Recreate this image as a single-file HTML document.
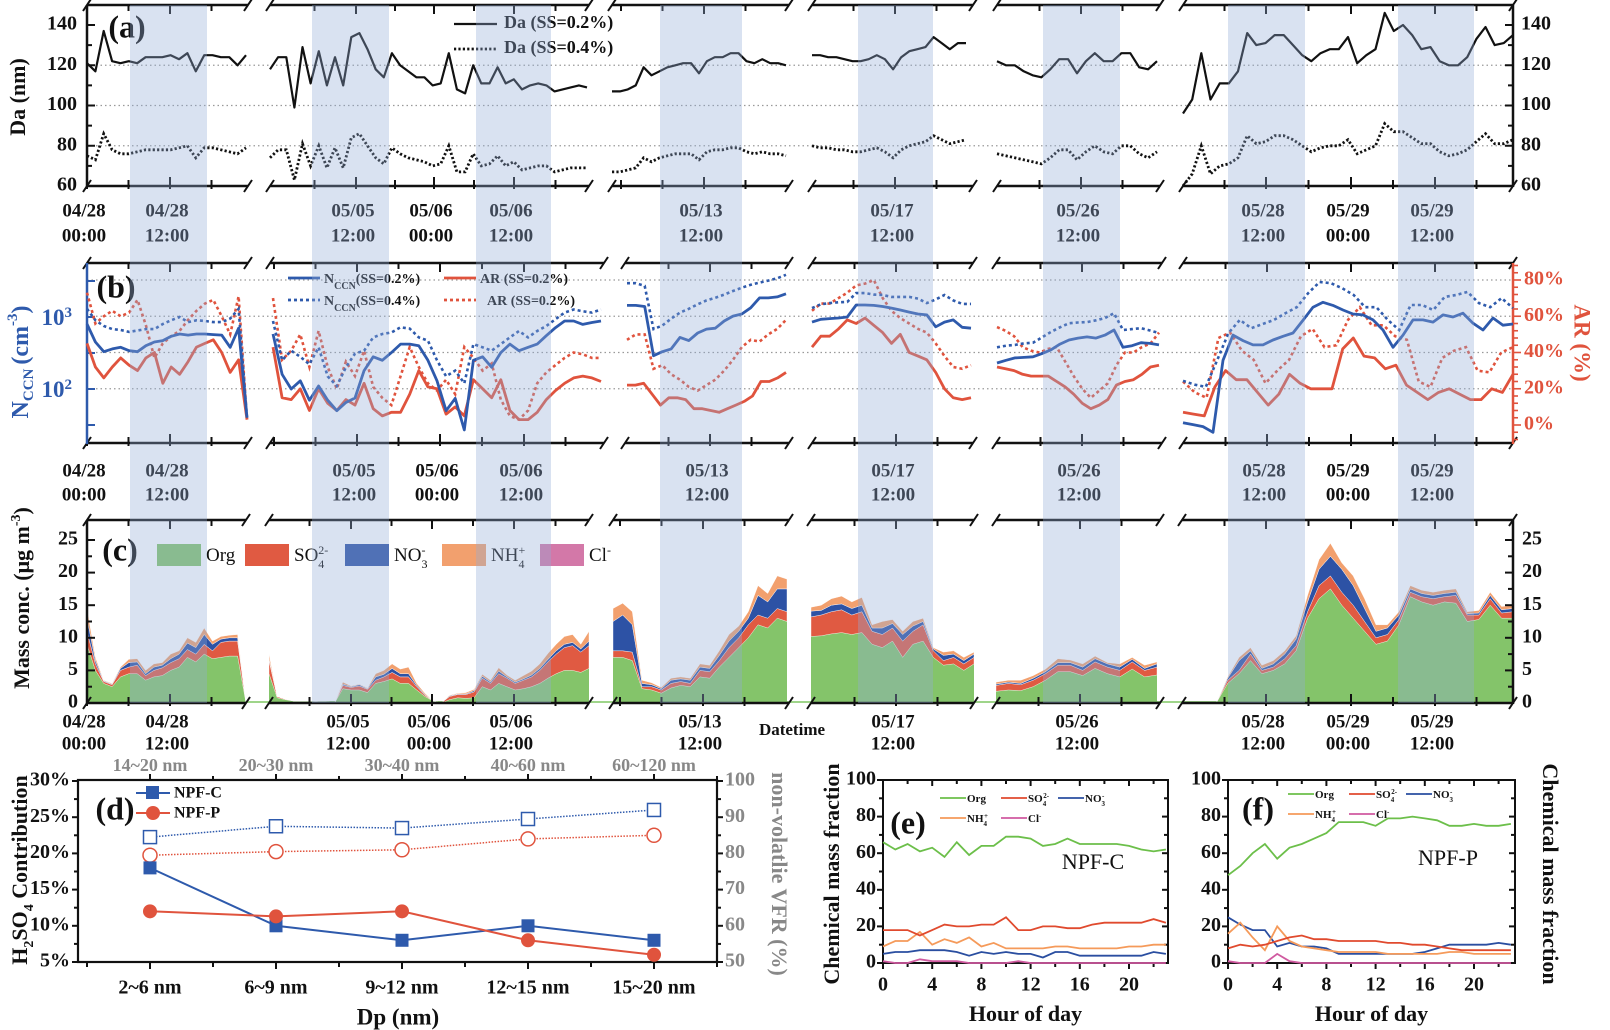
<!DOCTYPE html>
<html><head><meta charset="utf-8"><title>CCN and aerosol composition figure</title>
<style>
html,body{margin:0;padding:0;background:#fff;}
svg{display:block;font-family:"Liberation Serif",serif;font-weight:bold;}
</style></head>
<body>
<svg id="fig" width="1610" height="1030" viewBox="0 0 1610 1030"></svg>
<script>
// ===== Panel (a) data: Da (nm) per segment =====
const A_DA02_S1=[121,117,137,122,121,122,121,124,124,124,125,123,126,117,125,125,124,124,120,125];
const A_DA04_S1=[75,73,86,78,76,76,77,78,78,78,78,79,80,74,79,79,78,77,76,79];
const A_DA02_S2=[118,124,124,99,129,111,127,110,124,110,134,136,128,118,114,126,120,117,114,114,110,111,126,108,106,120,111,111,119,111,113,108,110,111,110,107,108,109,110,109];
const A_DA04_S2=[74,78,78,63,81,70,80,69,79,69,84,86,80,74,71,79,76,74,73,72,70,71,80,67,67,76,70,71,75,70,72,68,69,70,70,67,68,69,69,69];
const A_DA02_S3=[107,107,108,110,119,115,117,119,120,121,121,116,122,124,124,126,126,122,121,123,121,121,120];
const A_DA04_S3=[67,67,68,69,74,72,74,75,76,76,76,73,77,78,78,79,79,77,76,77,76,76,75];
const A_DA02_S4=[125,125,124,124,123,122,122,123,125,123,118,124,127,128,129,134,131,128,131,131];
const A_DA04_S4=[80,79,79,78,78,77,77,78,79,77,74,78,80,81,82,85,83,81,82,83];
const A_DA02_S5=[122,120,120,117,115,114,118,123,123,116,122,126,122,122,126,126,119,118,122];
const A_DA04_S5=[76,75,74,73,72,71,74,78,78,73,77,80,77,76,80,80,76,74,77];
const A_DA02_S6=[96,103,126,103,111,111,117,136,130,131,135,135,130,125,122,126,128,128,134,121,125,128,146,137,140,135,128,129,122,120,120,124,133,139,130,131,135];
const A_DA04_S6=[60,66,80,66,70,71,74,85,81,82,85,85,83,80,77,79,80,80,83,76,78,80,91,87,87,84,81,81,77,75,76,78,82,86,81,81,83];
const A_YTICKS=[60,80,100,120,140];

// ===== Panel (b) data: NCCN (cm-3) and AR (%) =====
const B_N02_S1=[800,450,330,360,380,340,330,400,450,470,540,580,560,580,580,570,560,380,700,40];
const B_N04_S1=[1300,900,750,680,660,620,650,680,680,800,900,1000,850,900,880,850,850,950,1300,40];
const B_AR_S1=[45,32,26,32,37,33,30,37,40,23,32,28,35,43,45,47,40,29,36,3];
const B_ARD_S1=[73,56,60,63,60,62,69,55,37,45,49,52,58,63,67,69,60,50,71,3];
const B_N02_S2=[580,160,100,130,70,110,70,50,65,75,180,280,250,320,420,420,400,250,130,50,74,27,250,280,200,320,420,340,380,420,550,710,880,880,790,840,880];
const B_N04_S2=[880,250,340,280,220,380,150,110,200,310,340,520,580,610,720,690,520,470,250,150,180,120,420,380,340,420,520,640,520,640,750,930,1150,1270,1200,1150,1270];
const B_AR_S2=[43,15,14,20,8,20,12,8,14,11,23,9,5,7,7,17,30,21,20,6,10,5,25,20,15,25,8,3,3,7,14,19,23,26,27,26,24];
const B_ARD_S2=[70,36,41,50,32,52,32,20,35,27,41,21,15,11,27,43,32,23,19,25,17,43,37,30,34,14,5,3,8,23,29,33,37,40,39,37,37];
const B_N02_S3=[1450,1450,1400,290,330,360,520,470,600,680,700,880,1030,1100,1340,1840,1840,1900,2100];
const B_N04_S3=[2950,2950,2700,680,760,950,1150,1300,1500,1700,1850,2050,2300,2550,2800,3000,3200,3450,3850];
const B_AR_S3=[22,22,23,17,11,15,15,14,9,9,8,7,9,11,13,16,24,24,26,29];
const B_ARD_S3=[47,50,50,31,33,28,25,21,19,22,25,30,36,43,47,46,50,53,58];
const B_N02_S4=[850,930,950,970,1000,1470,1470,1450,1400,1330,1250,1170,1100,1070,730,850,910,720,700];
const B_N04_S4=[1330,1500,1560,1600,1620,2150,2150,2050,2020,1900,1900,1900,1800,1560,1750,2020,1700,1520,1520];
const B_AR_S4=[43,49,49,53,58,56,59,55,51,45,50,40,38,36,29,20,15,14,15];
const B_ARD_S4=[63,67,67,70,73,77,78,80,70,63,59,56,53,51,45,38,32,31,33];
const B_N02_S5=[230,250,270,275,280,310,350,420,480,510,530,510,560,660,380,400,440,430,410];
const B_N04_S5=[380,400,410,430,440,520,620,720,820,840,850,900,970,1130,660,680,700,650,600];
const B_AR_S5=[32,31,30,28,27,27,27,24,21,17,12,9,11,14,22,24,25,28,32,33];
const B_ARD_S5=[54,52,49,43,41,40,42,43,35,27,20,15,19,23,33,40,40,43,45,51];
const B_N02_S6=[34,32,30,25,250,560,470,410,410,480,540,600,900,1370,1600,1450,1250,1100,1070,910,660,380,560,910,910,850,1070,1000,1130,820,660,970,770,800];
const B_N04_S6=[130,115,107,250,600,910,700,800,910,1130,1370,2150,3060,2950,2500,2020,1370,1370,910,660,1470,1470,1250,1900,2020,2230,1560,1370,1830,1330];
const B_AR_S6=[7,6,5,21,30,25,25,18,11,17,28,23,20,20,20,42,48,38,37,31,33,22,18,14,18,20,17,14,14,20,18,28];
const B_ARD_S6=[24,18,15,48,51,41,36,23,30,36,49,53,43,44,58,65,55,55,49,47,24,21,37,41,43,30,29,40,43];

// ===== Panel (c) data: species mass conc. (ug m-3) =====
const C_ORG_S1=[9,5,3,2.5,4,4.5,4.5,3.5,4,4.2,5,5.5,7,6.3,7.5,6.8,7,7.2,7.2,0];
const C_SO4_S1=[2,1,0.3,0.3,1,1,1.3,0.7,1,1.2,1.2,1.3,1.2,1.2,1.5,1.2,2.3,2.3,2.3,0];
const C_NO3_S1=[2,0.5,0.1,0.1,0.3,0.7,0.5,0.3,0.5,0.4,0.6,0.7,1,1,1.5,1,0.5,0.5,0.5,0];
const C_NH4_S1=[1.5,0.5,0.1,0.1,0.2,0.5,0.5,0.5,0.5,0.4,0.7,0.5,0.8,0.8,1,0.5,0.4,0.4,0.5,0];
const C_ORG_S2=[4.5,0.8,0.5,0.3,0.3,0.3,0.2,0.1,0,2.2,2,2,1.6,3,3.3,3.7,3,3,2,1,0.3,0,0.5,0.8,0.7,0.8,2.5,2,3,2.5,2,2.2,2.5,3,3.8,4.5,5,5,4.7,5.3];
const C_SO4_S2=[2,0.2,0.1,0,0,0,0,0.1,0,0.5,0.4,0.6,0.5,0.5,0.7,1,1,1,0.5,0.2,0,0,0.5,0.5,0.6,0.9,1.3,1,1.5,1.3,1,1.3,1.5,2,2.5,3,3.5,3.8,3.1,3.5];
const C_NO3_S2=[0.3,0,0,0,0,0,0,0,0,0.2,0.1,0.2,0.1,0.5,0.4,0.6,0.5,0.5,0.2,0.1,0,0,0.1,0.1,0.1,0.2,0.3,0.2,0.4,0.2,0.2,0.2,0.3,0.3,0.4,0.5,0.5,0.5,0.5,0.7];
const C_NH4_S2=[0.7,0,0,0,0,0,0,0,0,0.3,0.1,0.1,0.1,0.5,0.6,0.7,0.7,1,0.3,0.2,0,0,0.1,0.1,0.2,0.2,0.3,0.3,0.5,0.3,0.3,0.5,0.6,0.7,0.9,1,1.2,1.2,0.7,1.5];
const C_ORG_S3=[7,7,6.5,2.2,2,1.5,2.3,2.7,2.5,4,3.8,5.5,7,8.5,10,12,11.5,13,12.5];
const C_SO4_S3=[1,1,1.3,0.3,0.5,0.5,0.7,0.6,0.5,1,1,1,1.5,1.5,2,1.5,1.5,1.5,1.5];
const C_NO3_S3=[4.5,5.5,4.2,0.5,0.3,0.2,0.5,0.4,0.5,0.5,0.5,0.8,1,1,1,3,2.5,3,3.5];
const C_NH4_S3=[2,1.8,2,0.5,0.3,0.2,0.3,0.3,0.3,0.5,0.5,0.7,1,0.8,1,1.5,1.3,2,1.5];
const C_ORG_S4=[10.2,10.3,10.6,10.8,10.5,10.8,9,8.5,9.5,7,9,9.5,7,5.8,6,5,6];
const C_SO4_S4=[3,3.2,3.4,3.5,3,3.2,2,2,2,2.5,2,2.5,1,0.7,1,1,1];
const C_NO3_S4=[0.9,0.7,1,0.9,1,1,0.5,1,0.7,1,0.8,0.5,0.3,0.8,0.5,0.5,0.5];
const C_NH4_S4=[0.6,0.8,1,1.2,1,1.2,0.5,1,0.6,0.5,0.7,0.5,0.2,0.5,0.5,0.5,0.3];
const C_ORG_S5=[1.8,2,1.9,2.5,3.5,4.8,4.8,4.2,5.3,4.5,4,5.2,4,4.3];
const C_SO4_S5=[0.9,1,0.9,1,1,1,1,0.8,1,1,1,1.1,1,1.2];
const C_NO3_S5=[0.2,0.2,0.2,0.3,0.3,0.4,0.4,0.5,0.5,0.5,0.5,0.4,0.3,0.5];
const C_NH4_S5=[0.3,0.3,0.5,0.4,0.4,0.6,0.4,0.5,0.4,0.2,0.5,0.3,0.5,0.3];
const C_ORG_S6=[0,0,0,0,3,4.5,6.5,4.5,5,6,8,13,16,17.5,15,13,11,9,9.5,12,16.3,15.5,15,15.5,15.3,12.5,12.8,15,13,13];
const C_SO4_S6=[0,0,0,0,0.5,0.5,1,0.5,0.5,0.8,0.8,1,2,2,2,2,1.5,1,1,0.8,0.7,0.8,1,0.8,1.2,1,0.7,1,0.8,1];
const C_NO3_S6=[0,0,0,0,0.3,1.5,0.5,0.3,0.5,0.7,1,1.5,2.5,3,3.5,3,2,1,1,0.7,0.5,0.5,0.5,0.5,0.5,0.2,0.3,0.5,0.5,0.5];
const C_NH4_S6=[0,0,0,0,0.2,0.5,0.5,0.5,0.5,0.5,0.5,1,1.5,2,1,1.5,1.5,1,0.5,0.5,0.5,0.5,0.5,0.5,0.5,0.3,0.4,0.5,0.5,0.5];
const C_YTICKS=[0,5,10,15,20,25];

// ===== Time-axis tick labels =====
const TICK_DATES=['04/28','04/28','05/05','05/06','05/06','05/13','05/17','05/26','05/28','05/29','05/29'];
const TICK_TIMES=['00:00','12:00','12:00','00:00','12:00','12:00','12:00','12:00','12:00','00:00','12:00'];

// ===== Panel (d) data =====
const D_CATS=['2~6 nm','6~9 nm','9~12 nm','12~15 nm','15~20 nm'];
const D_TOPCATS=['14~20 nm','20~30 nm','30~40 nm','40~60 nm','60~120 nm'];
const D_NPFC=[18,10,8,10,8];
const D_NPFP=[12,11.3,12,8,6];
const D_VFR_C=[84.5,87.5,87,89.5,92];
const D_VFR_P=[79.5,80.5,81,84,85];
const D_LTICKS=[5,10,15,20,25,30];
const D_RTICKS=[50,60,70,80,90,100];

// ===== Panels (e),(f) data: diurnal mass fraction (%) =====
const HOURS=[0,1,2,3,4,5,6,7,8,9,10,11,12,13,14,15,16,17,18,19,20,21,22,23];
const E_ORG=[66,62,65,61,63,58,66,59,64,64,69,69,68,64,65,68,65,65,65,65,64,62,61,62];
const E_SO4=[18,18,18,15,18,21,20,20,21,21,25,18,18,20,20,19,19,21,22,22,22,22,24,22];
const E_NO3=[5,6,6,7,7,7,6,4,6,5,6,5,5,3,6,6,4,4,4,4,4,4,6,5];
const E_NH4=[9,12,12,17,10,13,11,14,9,11,8,8,8,8,9,9,8,8,8,8,9,9,10,10];
const E_CL=[1,0,0,2,1,1,1,0,0,0,0,1,0,0,0,0,0,0,0,0,0,0,0,0];
const F_ORG=[48,53,60,65,57,63,65,68,71,77,77,77,75,79,79,80,79,78,75,75,76,75,75,76];
const F_SO4=[8,10,9,10,12,14,15,13,13,12,12,12,12,11,11,10,10,9,8,7,7,7,7,7];
const F_NO3=[25,21,18,18,9,11,9,9,8,5,5,5,5,5,5,5,6,8,10,10,10,10,11,10];
const F_NH4=[16,22,14,7,20,12,9,8,7,6,6,6,6,5,5,5,5,5,6,6,5,5,5,5];
const F_CL=[1,0,0,0,5,1,0,0,0,0,0,0,0,0,0,0,0,0,0,0,0,0,0,0];
const EF_YTICKS=[0,20,40,60,80,100];
const EF_XTICKS=[0,4,8,12,16,20];

// ---------- layout ----------
const NS='http://www.w3.org/2000/svg';
const svg=document.getElementById('fig');
function mk(tag,attrs,parent){const e=document.createElementNS(NS,tag);for(const k in attrs)e.setAttribute(k,attrs[k]);(parent||svg).appendChild(e);return e;}
function grp(parent){return mk('g',{},parent);}
function tx(s,x,y,size,fill,anchor,parent,extra){const e=mk('text',Object.assign({x:x,y:y,'font-size':size,fill:fill||'#111','text-anchor':anchor||'middle','dominant-baseline':'middle'},extra||{}),parent);e.textContent=s;return e;}
function pathFrom(xs,ys){let d='';for(let i=0;i<xs.length;i++)d+=(i?'L':'M')+xs[i].toFixed(1)+' '+ys[i].toFixed(1);return d;}
function spread(n,x0,x1){const r=[];for(let i=0;i<n;i++)r.push(n>1?x0+(x1-x0)*i/(n-1):x0);return r;}

const BANDS=[[130,207],[312,389],[476,551],[660,742],[858,933],[1043,1120],[1228,1305],[1398,1474]];
const A_SEGS=[[87,248],[270,589],[612,789],[812,973],[997,1160],[1183,1513]];
const A_EXT=[[87,246],[270,587],[612,786],[812,966],[997,1157],[1183,1513]];
const B_SEGS=[[87,248],[270,604],[625,789],[812,973],[996,1162],[1183,1513]];
const B_EXT=[[87,247],[273,601],[627,786],[812,971],[997,1159],[1183,1513]];
const C_SEGS=[[87,246],[269,589],[613,789],[811,974],[996,1160],[1182,1513]];
const C_EXT=[[87,246],[269,589],[613,787],[811,974],[996,1157],[1182,1513]];
const A_TPOS=[87,170,356,434,514,704,895,1081,1266,1351,1435];
const B_TPOS=[87,170,357,440,524,710,896,1082,1267,1351,1435];
const C_TPOS=[87,170,351,432,514,703,896,1080,1266,1351,1435];

const yA=v=>186-(v-60)*161/80;
const yN=v=>317-72*(Math.log10(v)-3);
const yAR=p=>425-p*145/80;
const yC=v=>703-v*6.52;

function segAxes(segs,yTop,yBot,tpos,parent,name){
  const g=grp(parent);
  
  
  segs.forEach(s=>{
    [yTop,yBot].forEach(y=>{
      mk('line',{x1:s[0],y1:y,x2:s[1],y2:y,stroke:'#111','stroke-width':2.5},g);
      mk('line',{x1:s[0]-4,y1:y+6,x2:s[0]+4,y2:y-6,stroke:'#111','stroke-width':2},g);
      mk('line',{x1:s[1]-4,y1:y+6,x2:s[1]+4,y2:y-6,stroke:'#111','stroke-width':2},g);
    });
    const maj=tpos.filter(p=>p>=s[0]-2&&p<=s[1]+2);
    const ticks=[];
    maj.forEach(p=>ticks.push([p,9]));
    if(maj.length){
      for(let p=maj[0]-41.5;p>s[0]+3;p-=41.5)ticks.push([p,6]);
      for(let p=maj[maj.length-1]+41.5;p<s[1]-3;p+=41.5)ticks.push([p,6]);
      for(let i=0;i<maj.length-1;i++){const m=(maj[i]+maj[i+1])/2;ticks.push([m,6]);}
    }
    ticks.forEach(t=>{
      mk('line',{x1:t[0],y1:yBot,x2:t[0],y2:yBot-t[1],stroke:'#111','stroke-width':2},g);
      mk('line',{x1:t[0],y1:yBot,x2:t[0],y2:yBot+3,stroke:'#111','stroke-width':2},g);
      mk('line',{x1:t[0],y1:yTop,x2:t[0],y2:yTop+t[1],stroke:'#111','stroke-width':2},g);
    });
  });
  return g;
}
function timeLabels(tpos,y1,y2,parent,name){
  const g=grp(parent);
  
  
  tpos.forEach((p,i)=>{
    const a=tx(TICK_DATES[i],p-3,y1,19,'#111','middle',g);
    
    
    const b=tx(TICK_TIMES[i],p-3,y2,19,'#111','middle',g);
    
    
  });
}
function hgrid(ys,parent,name){
  const g=grp(parent);
  
  
  ys.forEach(y=>mk('line',{x1:87,y1:y,x2:1513,y2:y,stroke:'#999','stroke-width':1.2,'stroke-dasharray':'1.5,3'},g));
}

// ================= Panel (a) =================
const pa=grp();


hgrid([yA(80),yA(100),yA(120)],pa,'panel-a-gridlines');
segAxes(A_SEGS,5,186,A_TPOS,pa,'panel-a-x-axis');
timeLabels(A_TPOS,212,237,pa,'panel-a-x-tick-labels');
{
  const g=grp(pa);
  
  
  mk('line',{x1:87,y1:5,x2:87,y2:187,stroke:'#111','stroke-width':2.5},g);
  mk('line',{x1:1513,y1:5,x2:1513,y2:187,stroke:'#111','stroke-width':2.5},g);
  A_YTICKS.forEach(v=>{
    mk('line',{x1:87,y1:yA(v),x2:95,y2:yA(v),stroke:'#111','stroke-width':2},g);
    mk('line',{x1:1513,y1:yA(v),x2:1505,y2:yA(v),stroke:'#111','stroke-width':2},g);
    if(v<140){mk('line',{x1:87,y1:yA(v+10),x2:92,y2:yA(v+10),stroke:'#111','stroke-width':2},g);mk('line',{x1:1513,y1:yA(v+10),x2:1508,y2:yA(v+10),stroke:'#111','stroke-width':2},g);}
    const l=tx(String(v),77,yA(v),20,'#111','end',g);
    
    
    const r=tx(String(v),1521,yA(v),20,'#111','start',g);
    
    
  });
  const t=tx('Da (nm)',20,97,22,'#111','middle',g,{transform:'rotate(-90 20 97)'});
  
  
}
const aSeries=[[A_DA02_S1,A_DA04_S1],[A_DA02_S2,A_DA04_S2],[A_DA02_S3,A_DA04_S3],[A_DA02_S4,A_DA04_S4],[A_DA02_S5,A_DA04_S5],[A_DA02_S6,A_DA04_S6]];
aSeries.forEach((pair,i)=>{
  const e=A_EXT[i];
  const s=mk('path',{d:pathFrom(spread(pair[0].length,e[0],e[1]),pair[0].map(yA)),fill:'none',stroke:'#111','stroke-width':2.2,'stroke-linejoin':'round'},pa);
  
  
  const d=mk('path',{d:pathFrom(spread(pair[1].length,e[0],e[1]),pair[1].map(yA)),fill:'none',stroke:'#111','stroke-width':2.8,'stroke-dasharray':'2.2,2.2'},pa);
  
  
});
{
  const t=tx('(a)',127,30,32,'#111','middle',pa);
  
  
  const lg=grp(pa);
  
  
  mk('line',{x1:454,y1:24,x2:497,y2:24,stroke:'#111','stroke-width':2.2},lg);
  const l1=tx('Da (SS=0.2%)',504,24,18,'#111','start',lg);
  
  
  mk('line',{x1:454,y1:49,x2:497,y2:49,stroke:'#111','stroke-width':2.8,'stroke-dasharray':'2.2,2.2'},lg);
  const l2=tx('Da (SS=0.4%)',504,49,18,'#111','start',lg);
  
  
}

// ================= Panel (b) =================
const pb=grp();


hgrid([yAR(80),yAR(60),yAR(40),yAR(20)],pb,'panel-b-gridlines');
segAxes(B_SEGS,263,443,B_TPOS,pb,'panel-b-x-axis');
timeLabels(B_TPOS,472,496,pb,'panel-b-x-tick-labels');
{
  const g=grp(pb);
  
  
  mk('line',{x1:87,y1:263,x2:87,y2:444,stroke:'#2e5aac','stroke-width':2.5},g);
  [281,317,353,389,425].forEach(y=>mk('line',{x1:87,y1:y,x2:95,y2:y,stroke:'#2e5aac','stroke-width':2},g));
  mk('line',{x1:1513,y1:263,x2:1513,y2:444,stroke:'#e0533d','stroke-width':2.5},g);
  for(let p=-8;p<=96;p+=4){const y=yAR(p);if(y<265||y>442)continue;const big=(p%20===0);mk('line',{x1:1513,y1:y,x2:1513+(big?8:5),y2:y,stroke:'#e0533d','stroke-width':1.6},g);}
  [[3,317],[2,389]].forEach(d=>{
    const t=mk('text',{x:72,y:d[1]+8,'font-size':23,fill:'#2e5aac','text-anchor':'end'},g);
    
    
    const a=mk('tspan',{},t);a.textContent='10';
    const b=mk('tspan',{'baseline-shift':'super','font-size':15},t);b.textContent=String(d[0]);
  });
  [0,20,40,60,80].forEach(p=>{
    const r=tx(p+'%',1524,yAR(p),20,'#e0533d','start',g);
    
    
  });
  const t=mk('text',{x:22,y:362,'font-size':24,fill:'#2e5aac','text-anchor':'middle',transform:'rotate(-90 22 362)','dominant-baseline':'middle'},g);
  
  
  const t1=mk('tspan',{},t);t1.textContent='N';
  const t2=mk('tspan',{'baseline-shift':'sub','font-size':15},t);t2.textContent='CCN';
  const t3=mk('tspan',{dx:4},t);t3.textContent='(cm';
  const t4=mk('tspan',{'baseline-shift':'super','font-size':15},t);t4.textContent='-3';
  const t5=mk('tspan',{},t);t5.textContent=')';
  const r=tx('AR (%)',1580,343,23,'#e0533d','middle',g,{transform:'rotate(90 1580 343)'});
  
  
}
const bSeries=[[B_N02_S1,B_N04_S1,B_AR_S1,B_ARD_S1],[B_N02_S2,B_N04_S2,B_AR_S2,B_ARD_S2],[B_N02_S3,B_N04_S3,B_AR_S3,B_ARD_S3],[B_N02_S4,B_N04_S4,B_AR_S4,B_ARD_S4],[B_N02_S5,B_N04_S5,B_AR_S5,B_ARD_S5],[B_N02_S6,B_N04_S6,B_AR_S6,B_ARD_S6]];
bSeries.forEach((q,i)=>{
  const e=B_EXT[i];
  const a=mk('path',{d:pathFrom(spread(q[3].length,e[0],e[1]),q[3].map(yAR)),fill:'none',stroke:'#e0533d','stroke-width':2.6,'stroke-dasharray':'3,3'},pb);
  
  
  const b=mk('path',{d:pathFrom(spread(q[2].length,e[0],e[1]),q[2].map(yAR)),fill:'none',stroke:'#e0533d','stroke-width':2.8,'stroke-linejoin':'round'},pb);
  
  
  const c=mk('path',{d:pathFrom(spread(q[1].length,e[0],e[1]),q[1].map(yN)),fill:'none',stroke:'#2e5aac','stroke-width':2.6,'stroke-dasharray':'3,3'},pb);
  
  
  const d=mk('path',{d:pathFrom(spread(q[0].length,e[0],e[1]),q[0].map(yN)),fill:'none',stroke:'#2e5aac','stroke-width':2.8,'stroke-linejoin':'round'},pb);
  
  
});
{
  const t=tx('(b)',116,290,32,'#111','middle',pb);
  
  
  const lg=grp(pb);
  
  
  const ent=[[288,278,'#2e5aac',null,'N','CCN','(SS=0.2%)','legend-entry-nccn-ss02'],[288,300,'#2e5aac','3,3','N','CCN','(SS=0.4%)','legend-entry-nccn-ss04'],[444,278,'#e0533d',null,'AR (SS=0.2%)','','','legend-entry-ar-solid'],[444,300,'#e0533d','3,3','AR (SS=0.2%)','','','legend-entry-ar-dotted']];
  ent.forEach(en=>{
    const ln=mk('line',{x1:en[0],y1:en[1],x2:en[0]+32,y2:en[1],stroke:en[2],'stroke-width':2.8},lg);
    if(en[3])ln.setAttribute('stroke-dasharray',en[3]);
    const t=mk('text',{x:en[0]+(en[3]&&en[5]===''?43:36),y:en[1]+5,'font-size':14,fill:'#111'},lg);
    
    
    const s1=mk('tspan',{},t);s1.textContent=en[4];
    if(en[5]){const s2=mk('tspan',{'baseline-shift':'sub','font-size':10},t);s2.textContent=en[5];const s3=mk('tspan',{},t);s3.textContent=en[6];}
  });
}

// ================= Panel (c) =================
const pc=grp();


const C_COLORS=['#84c46a','#e05a42','#2d52a5','#f2a06e'];
const C_NAMES=['org','so4','no3','nh4'];
const cSeries=[[C_ORG_S1,C_SO4_S1,C_NO3_S1,C_NH4_S1],[C_ORG_S2,C_SO4_S2,C_NO3_S2,C_NH4_S2],[C_ORG_S3,C_SO4_S3,C_NO3_S3,C_NH4_S3],[C_ORG_S4,C_SO4_S4,C_NO3_S4,C_NH4_S4],[C_ORG_S5,C_SO4_S5,C_NO3_S5,C_NH4_S5],[C_ORG_S6,C_SO4_S6,C_NO3_S6,C_NH4_S6]];
{
  const base=mk('line',{x1:87,y1:702,x2:1513,y2:702,stroke:'#9fd58a','stroke-width':2},pc);
  
  
}
cSeries.forEach((sp,i)=>{
  const e=C_EXT[i];
  const n=sp[0].length;
  const xs=spread(n,e[0],e[1]);
  let lower=new Array(n).fill(0);
  sp.forEach((arr,k)=>{
    const upper=lower.map((v,j)=>v+arr[j]);
    let d='';
    for(let j=0;j<n;j++)d+=(j?'L':'M')+xs[j].toFixed(1)+' '+yC(upper[j]).toFixed(1);
    for(let j=n-1;j>=0;j--)d+='L'+xs[j].toFixed(1)+' '+yC(lower[j]).toFixed(1);
    const p=mk('path',{d:d+'Z',fill:C_COLORS[k],stroke:k===0?'none':'#fff','stroke-width':0.4},pc);
    
    
    lower=upper;
  });
});
segAxes(C_SEGS,520,703,C_TPOS,pc,'panel-c-x-axis');
timeLabels(C_TPOS,723,745,pc,'panel-c-x-tick-labels');
{
  const g=grp(pc);
  
  
  mk('line',{x1:87,y1:520,x2:87,y2:704,stroke:'#111','stroke-width':2.5},g);
  mk('line',{x1:1513,y1:520,x2:1513,y2:704,stroke:'#111','stroke-width':2.5},g);
  C_YTICKS.forEach(v=>{
    mk('line',{x1:87,y1:yC(v),x2:95,y2:yC(v),stroke:'#111','stroke-width':2},g);
    mk('line',{x1:1513,y1:yC(v),x2:1505,y2:yC(v),stroke:'#111','stroke-width':2},g);
    if(v<25){mk('line',{x1:87,y1:yC(v+2.5),x2:92,y2:yC(v+2.5),stroke:'#111','stroke-width':2},g);mk('line',{x1:1513,y1:yC(v+2.5),x2:1508,y2:yC(v+2.5),stroke:'#111','stroke-width':2},g);}
    const l=tx(String(v),78,yC(v),20,'#111','end',g);
    
    
    const r=tx(String(v),1522,yC(v),20,'#111','start',g);
    
    
  });
  const t=mk('text',{x:24,y:598,'font-size':22,fill:'#111','text-anchor':'middle','dominant-baseline':'middle',transform:'rotate(-90 24 598)'},g);
  
  
  const a=mk('tspan',{},t);a.textContent='Mass conc. (\u03bcg m';
  const b=mk('tspan',{'baseline-shift':'super','font-size':14},t);b.textContent='-3';
  const c=mk('tspan',{},t);c.textContent=')';
  const dt=tx('Datetime',792,731,17,'#111','middle',pc);
  
  
  const pl=tx('(c)',120,553,32,'#111','middle',pc);
  
  
  const lg=grp(pc);
  
  
  const LEG=[[157,'#84c46a','Org','',''],[245,'#e05a42','SO','4','2-'],[345,'#2d52a5','NO','3','-'],[442,'#f2a06e','NH','4','+'],[540,'#d378a8','Cl','','-']];
  LEG.forEach((L,k)=>{
    mk('rect',{x:L[0],y:544,width:44,height:22,fill:L[1]},lg);
    const t=mk('text',{x:L[0]+49,y:561,'font-size':19,fill:'#111','font-weight':'normal'},lg);
    
    
    const a1=mk('tspan',{},t);a1.textContent=L[2];
    if(L[3]){const a2=mk('tspan',{'baseline-shift':'sub','font-size':12},t);a2.textContent=L[3];}
    if(L[4]){const a3=mk('tspan',{'baseline-shift':'super','font-size':12,dx:L[3]?-6:0},t);a3.textContent=L[4];}
  });
}

// ================= day bands (overlay) =================
{
  const g=grp();
  
  
  BANDS.forEach(b=>mk('rect',{x:b[0],y:5,width:b[1]-b[0],height:698,fill:'rgba(147,172,215,0.35)'},g));
}

// ================= Panel (d) =================
const pd=grp();


const dx=i=>150+126*i;
const dyL=v=>962-(v-5)*181/25;
const dyR=v=>962-(v-50)*181/50;
{
  const g=grp(pd);
  
  
  mk('rect',{x:78,y:780,width:639,height:182,fill:'none',stroke:'#111','stroke-width':2.2},g);
  D_LTICKS.forEach(v=>{
    mk('line',{x1:78,y1:dyL(v),x2:72,y2:dyL(v),stroke:'#111','stroke-width':2},g);
    if(v<30)mk('line',{x1:78,y1:dyL(v+2.5),x2:74,y2:dyL(v+2.5),stroke:'#111','stroke-width':2},g);
    const l=tx(v+'%',70,dyL(v),20,'#111','end',g);
    
    
  });
  D_RTICKS.forEach(v=>{
    mk('line',{x1:717,y1:dyR(v),x2:723,y2:dyR(v),stroke:'#111','stroke-width':2},g);
    if(v<100)mk('line',{x1:717,y1:dyR(v+5),x2:721,y2:dyR(v+5),stroke:'#111','stroke-width':2},g);
    const r=tx(String(v),725,dyR(v),20,'#888','start',g);
    
    
  });
  D_CATS.forEach((c,i)=>{
    mk('line',{x1:dx(i),y1:962,x2:dx(i),y2:969,stroke:'#111','stroke-width':2},g);
    mk('line',{x1:dx(i)+63,y1:962,x2:dx(i)+63,y2:967,stroke:'#111','stroke-width':2},g);
    mk('line',{x1:dx(i),y1:780,x2:dx(i),y2:774,stroke:'#111','stroke-width':2},g);
    mk('line',{x1:dx(i)+63,y1:780,x2:dx(i)+63,y2:776,stroke:'#111','stroke-width':2},g);
    const l=tx(c,dx(i),989,20,'#111','middle',g);
    
    
    const t=tx(D_TOPCATS[i],dx(i),767,18,'#888','middle',g);
    
    
  });
  mk('line',{x1:dx(0)-63,y1:962,x2:dx(0)-63,y2:967,stroke:'#111','stroke-width':2},g);
  const xt=tx('Dp (nm)',398,1019,23,'#111','middle',g);
  
  
  const yt=mk('text',{x:22,y:870,'font-size':22,fill:'#111','text-anchor':'middle','dominant-baseline':'middle',transform:'rotate(-90 22 870)'},g);
  
  
  const y1=mk('tspan',{},yt);y1.textContent='H';
  const y2=mk('tspan',{'baseline-shift':'sub','font-size':14},yt);y2.textContent='2';
  const y3=mk('tspan',{},yt);y3.textContent='SO';
  const y4=mk('tspan',{'baseline-shift':'sub','font-size':14},yt);y4.textContent='4';
  const y5=mk('tspan',{},yt);y5.textContent=' Contribution';
  const rt=tx('non-volatlie VFR (%)',777,874,22,'#888','middle',g,{transform:'rotate(90 777 874)'});
  
  
}
{
  const xs=D_CATS.map((c,i)=>dx(i));
  const l1=mk('path',{d:pathFrom(xs,D_VFR_C.map(dyR)),fill:'none',stroke:'#2e5aac','stroke-width':1.5,'stroke-dasharray':'1.5,1.5'},pd);
  
  
  const l2=mk('path',{d:pathFrom(xs,D_VFR_P.map(dyR)),fill:'none',stroke:'#e0533d','stroke-width':1.5,'stroke-dasharray':'1.5,1.5'},pd);
  
  
  const l3=mk('path',{d:pathFrom(xs,D_NPFC.map(dyL)),fill:'none',stroke:'#2e5aac','stroke-width':2},pd);
  
  
  const l4=mk('path',{d:pathFrom(xs,D_NPFP.map(dyL)),fill:'none',stroke:'#e0533d','stroke-width':2},pd);
  
  
  xs.forEach((x,i)=>{
    const a=mk('rect',{x:x-6.5,y:dyR(D_VFR_C[i])-6.5,width:13,height:13,fill:'#fff',stroke:'#2e5aac','stroke-width':1.5},pd);
    
    
    const b=mk('circle',{cx:x,cy:dyR(D_VFR_P[i]),r:7,fill:'#fff',stroke:'#e0533d','stroke-width':1.5},pd);
    
    
    const c=mk('rect',{x:x-6.5,y:dyL(D_NPFC[i])-6.5,width:13,height:13,fill:'#2e5aac'},pd);
    
    
    const d=mk('circle',{cx:x,cy:dyL(D_NPFP[i]),r:7,fill:'#e0533d'},pd);
    
    
  });
  const pl=tx('(d)',115,812,32,'#111','middle',pd);
  
  
  const lg=grp(pd);
  
  
  mk('line',{x1:136,y1:793,x2:170,y2:793,stroke:'#2e5aac','stroke-width':2},lg);
  mk('rect',{x:146,y:786,width:13,height:13,fill:'#2e5aac'},lg);
  const e1=tx('NPF-C',174,794,16,'#111','start',lg);
  
  
  mk('line',{x1:136,y1:813,x2:170,y2:813,stroke:'#e0533d','stroke-width':2},lg);
  mk('circle',{cx:153,cy:813,r:7,fill:'#e0533d'},lg);
  const e2=tx('NPF-P',174,814,16,'#111','start',lg);
  
  
}

// ================= Panels (e),(f) =================
const EF_COL={org:'#6cbf4a',so4:'#e04a2e',no3:'#2a4ea0',nh4:'#f59a5a',cl:'#d05aa0'};
function diurnal(x0,x1,series,label,tag,lx,ly,nx,ny,legX,legY,ylabSide){
  const g=grp();
  
  
  const yTop=780,yBot=963;
  const xh=h=>x0+h*12.3;
  const yv=v=>yBot-v*(yBot-yTop)/100;
  const ax=grp(g);
  
  
  mk('rect',{x:x0,y:yTop,width:x1-x0,height:yBot-yTop,fill:'none',stroke:'#111','stroke-width':2},ax);
  EF_YTICKS.forEach(v=>{
    mk('line',{x1:x0,y1:yv(v),x2:x0-6,y2:yv(v),stroke:'#111','stroke-width':2},ax);
    mk('line',{x1:x1,y1:yv(v),x2:x1-6,y2:yv(v),stroke:'#111','stroke-width':2},ax);
    if(v<100){mk('line',{x1:x0,y1:yv(v+10),x2:x0-4,y2:yv(v+10),stroke:'#111','stroke-width':2},ax);mk('line',{x1:x1,y1:yv(v+10),x2:x1-4,y2:yv(v+10),stroke:'#111','stroke-width':2},ax);}
    const l=tx(String(v),x0-7,yv(v),20,'#111','end',ax);
    
    
  });
  for(let h=0;h<=23;h+=2){
    mk('line',{x1:xh(h),y1:yBot,x2:xh(h),y2:yBot+(h%4===0?6:4),stroke:'#111','stroke-width':2},ax);
    mk('line',{x1:xh(h),y1:yTop,x2:xh(h),y2:yTop+(h%4===0?6:4),stroke:'#111','stroke-width':2},ax);
  }
  EF_XTICKS.forEach(h=>{
    const l=tx(String(h),xh(h),986,20,'#111','middle',ax);
    
    
  });
  const xt=tx('Hour of day',(x0+x1)/2,1016,22,'#111','middle',ax);
  
  
  const rot=ylabSide[1]<0?-90:90;
  const yt=tx('Chemical mass fraction',ylabSide[0],874,22,'#111','middle',ax,{transform:'rotate('+rot+' '+ylabSide[0]+' 874)'});
  
  
  ['cl','no3','nh4','so4','org'].forEach(k=>{
    const p=mk('path',{d:pathFrom(HOURS.map(xh),series[k].map(yv)),fill:'none',stroke:EF_COL[k],'stroke-width':1.8},g);
    
    
  });
  const pl=tx(label,lx,ly,32,'#111','middle',g);
  
  
  const nl=tx(tag==='e'?'NPF-C':'NPF-P',nx,ny,22,'#111','middle',g,{'font-weight':'normal'});
  
  
  const lg=grp(g);
  
  
  const ents=[['org',0,0,'Org','',''],['so4',61,0,'SO','4','2-'],['no3',118,0,'NO','3','-'],['nh4',0,20,'NH','4','+'],['cl',61,20,'Cl','','-']];
  ents.forEach(en=>{
    mk('line',{x1:legX+en[1],y1:legY+en[2],x2:legX+en[1]+26,y2:legY+en[2],stroke:EF_COL[en[0]],'stroke-width':1.8},lg);
    const t=mk('text',{x:legX+en[1]+27,y:legY+en[2]+4,'font-size':11,fill:'#111'},lg);
    
    
    const a=mk('tspan',{},t);a.textContent=en[3];
    if(en[4]){const b=mk('tspan',{'baseline-shift':'sub','font-size':7},t);b.textContent=en[4];}
    if(en[5]){const c=mk('tspan',{'baseline-shift':'super','font-size':7,dx:en[4]?-3:0},t);c.textContent=en[5];}
  });
}
diurnal(883,1168,{org:E_ORG,so4:E_SO4,no3:E_NO3,nh4:E_NH4,cl:E_CL},'(e)','e',908,826,1093,864,940,798,[834,-1]);
diurnal(1228,1515,{org:F_ORG,so4:F_SO4,no3:F_NO3,nh4:F_NH4,cl:F_CL},'(f)','f',1258,812,1448,860,1288,794,[1548,1]);
</script>
</body></html>
